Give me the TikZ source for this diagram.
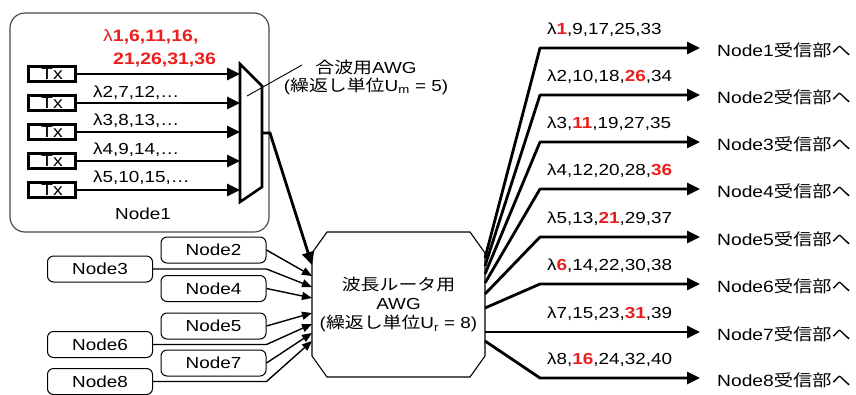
\documentclass[tikz,border=0pt]{standalone}
\usepackage{fontspec}
\setmainfont{Liberation Sans}[FakeStretch=1.18]
\newfontfamily\jp{Noto Sans CJK JP}[FakeStretch=1.18]
\usetikzlibrary{arrows.meta,calc}
\definecolor{hred}{RGB}{235,30,30}
\begin{document}
\begin{tikzpicture}[x=1pt,y=-1pt,
  fs/.style={font=\fontsize{#1}{#1}\selectfont},
  thickarrow/.style={line width=2.8pt,-{Triangle[length=13pt,width=12pt]}},
  thinarrow/.style={line width=1.4pt,-{Triangle[length=10pt,width=8pt]}},
  nbox/.style={draw,line width=1pt,rounded corners=6pt,minimum width=105pt,minimum height=26pt,inner sep=0pt,fs=16pt},
  txbox/.style={draw,line width=3pt,minimum width=47pt,minimum height=15pt,inner sep=0pt,fs=16.5pt},
  lab/.style={anchor=west,inner sep=0pt,fs=16pt},
  rlab/.style={anchor=west,inner sep=0pt,fs=16.3pt}]
\useasboundingbox (0,0) rectangle (856,394);
\fill[white] (0,0) rectangle (856,394);

% Node1 frame
\draw[black!70,line width=1.2pt,rounded corners=15pt] (10,13) rectangle (269,232);
\node[fs=16pt] (n1lab) at (143,214) {Node1};

% Tx boxes and mux
\foreach \i/\y in {1/74,2/103,3/132,4/161,5/190}{
  \node[txbox] (tx\i) at (52,\y) {Tx};
  \coordinate (m\i) at (240,\y);
  \draw[thickarrow] (tx\i.east) -- (m\i);
}
\draw[line width=2.6pt,line join=miter] (240,64) -- (262,86) -- (262,187) -- (240,202) -- cycle;
\coordinate (muxout) at (262,133);
\coordinate (muxptr) at (247,96);

\node[anchor=west,inner sep=0pt,fs=16.5pt,text=hred] (red1) at (103,37) {λ\textbf{1,6,11,16,}};
\node[anchor=west,inner sep=0pt,fs=16.5pt,text=hred] (red2) at (113,60) {\textbf{21,26,31,36}};
\node[lab] (l2) at (93,93) {λ2,7,12,…};
\node[lab] (l3) at (93,121) {λ3,8,13,…};
\node[lab] (l4) at (93,150) {λ4,9,14,…};
\node[lab] (l5) at (93,178) {λ5,10,15,…};

% mux label
\node[fs=16pt,align=center,inner sep=0pt] (muxlab) at (366,77) {{\jp 合波用}AWG\\[2pt]({\jp 繰返し単位}U\textsubscript{m} = 5)};
\coordinate (ptrend) at (302,65);
\draw[line width=0.9pt] (muxptr) -- (ptrend);

% router AWG
\node[minimum width=173pt,minimum height=145pt,inner sep=0pt,fs=16pt,align=center] (awg) at (398.5,304.5)
  {{\jp 波長ルータ用}\\[3pt]AWG\\[3pt]({\jp 繰返し単位}U\textsubscript{r} = 8)};
\draw[line width=1.1pt] (327,232) -- (470,232) -- (485,253) -- (485,356) -- (470,377) -- (327,377) -- (312,356) -- (312,253) -- cycle;

% input nodes
\node[nbox] (node2) at (213.5,250) {Node2};
\node[nbox] (node3) at (100,269) {Node3};
\node[nbox] (node4) at (213.5,288.5) {Node4};
\node[nbox] (node5) at (213.5,326) {Node5};
\node[nbox] (node6) at (100,344.5) {Node6};
\node[nbox] (node7) at (213.5,363) {Node7};
\node[nbox] (node8) at (100,381.5) {Node8};

\foreach \i/\y in {1/265,2/276,3/287,4/298,5/313,6/324,7/333,8/341}{
  \coordinate (in\i) at (312,\y);
}
\draw[thickarrow] (muxout) -- ++(8,0) -- (in1);
\draw[thinarrow] (node2.east) -- (in2);
\draw[thinarrow] (node3.east) -- (node3.east -| node2.east) -- (in3);
\draw[thinarrow] (node4.east) -- (in4);
\draw[thinarrow] (node5.east) -- (in5);
\draw[thinarrow] (node6.east) -- (node6.east -| node2.east) -- (in6);
\draw[thinarrow] (node7.east) -- (in7);
\draw[thinarrow] (node8.east) -- (node8.east -| node2.east) -- (in8);

% outputs
\foreach \i/\y/\o in {1/48/258,2/95/266,3/142/274,4/189/283,5/237/294,6/284/308,7/332/332,8/378/341}{
  \coordinate (o\i) at (485,\o);
  \coordinate (t\i) at (700,\y);
  \draw[thickarrow,line join=round] (o\i) -- ([xshift=-160pt]t\i) -- (t\i);
  \node[rlab] (r\i) at (717,\y+2) {Node\i{\jp 受信部へ}};
}
\node[lab] (w1) at (547,30) {λ\textcolor{hred}{\textbf{1}},9,17,25,33};
\node[lab] (w2) at (547,77) {λ2,10,18,\textcolor{hred}{\textbf{26}},34};
\node[lab] (w3) at (547,124) {λ3,\textcolor{hred}{\textbf{11}},19,27,35};
\node[lab] (w4) at (547,171) {λ4,12,20,28,\textcolor{hred}{\textbf{36}}};
\node[lab] (w5) at (547,219) {λ5,13,\textcolor{hred}{\textbf{21}},29,37};
\node[lab] (w6) at (547,266) {λ\textcolor{hred}{\textbf{6}},14,22,30,38};
\node[lab] (w7) at (547,314) {λ7,15,23,\textcolor{hred}{\textbf{31}},39};
\node[lab] (w8) at (547,360) {λ8,\textcolor{hred}{\textbf{16}},24,32,40};
\end{tikzpicture}
\end{document}
